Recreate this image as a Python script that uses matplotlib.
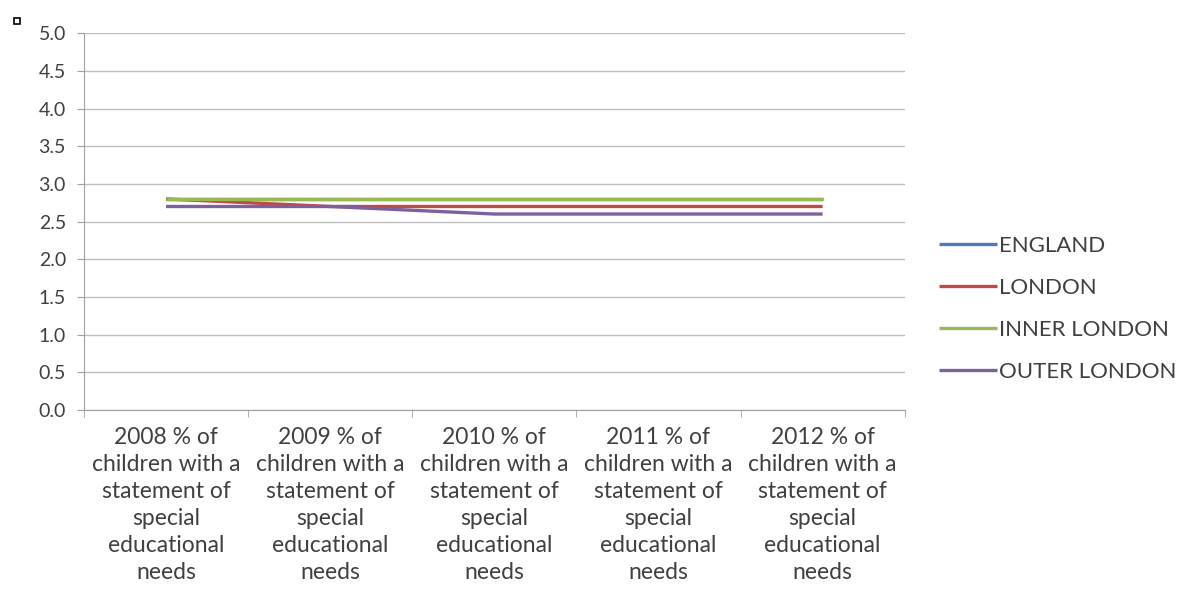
import matplotlib
matplotlib.use("Agg")
import matplotlib.pyplot as plt
from matplotlib.patches import Rectangle

plt.rcParams['font.family'] = ['Lato', 'DejaVu Sans']

categories = [
    "2008 % of\nchildren with a\nstatement of\nspecial\neducational\nneeds",
    "2009 % of\nchildren with a\nstatement of\nspecial\neducational\nneeds",
    "2010 % of\nchildren with a\nstatement of\nspecial\neducational\nneeds",
    "2011 % of\nchildren with a\nstatement of\nspecial\neducational\nneeds",
    "2012 % of\nchildren with a\nstatement of\nspecial\neducational\nneeds",
]
england = [2.8, 2.8, 2.8, 2.8, 2.8]
london = [2.8, 2.7, 2.7, 2.7, 2.7]
inner_london = [2.8, 2.8, 2.8, 2.8, 2.8]
outer_london = [2.7, 2.7, 2.6, 2.6, 2.6]

series = [
    ("ENGLAND", england, "#4A7EBB"),
    ("LONDON", london, "#BE4B48"),
    ("INNER LONDON", inner_london, "#98B954"),
    ("OUTER LONDON", outer_london, "#7D60A0"),
]

fig = plt.figure(figsize=(11.86, 5.94), dpi=100)
ax = fig.add_axes([0.0708, 0.31, 0.692, 0.634])

x = list(range(len(categories)))
for name, vals, col in series:
    ax.plot(x, vals, color=col, lw=2.4, label=name, solid_capstyle='butt')

ax.set_xlim(-0.5, len(categories) - 0.5)
ax.set_ylim(0, 5)
ax.set_yticks([i * 0.5 for i in range(11)])
ax.set_yticklabels([f"{i * 0.5:.1f}" for i in range(11)], fontsize=14, color="#404040")
ax.grid(axis='y', color="#BFBFBF", lw=1)
ax.set_axisbelow(True)

ax.set_xticks(x)
ax.set_xticklabels(categories, fontsize=16.5, color="#404040", linespacing=1.36)
ax.set_xticks([i - 0.5 for i in range(len(categories) + 1)], minor=True)
ax.tick_params(axis='x', which='major', length=0, pad=12)
ax.tick_params(axis='x', which='minor', length=5, color="#A0A0A0")
ax.tick_params(axis='y', length=5, color="#A0A0A0", pad=8)

for s in ['top', 'right']:
    ax.spines[s].set_visible(False)
for s in ['left', 'bottom']:
    ax.spines[s].set_color("#A0A0A0")

fig.legend(loc='center left', bbox_to_anchor=(0.775, 0.48), frameon=False,
           fontsize=16, handlelength=2.6, handletextpad=0.1, labelspacing=1.0,
           labelcolor="#404040")

fig.add_artist(Rectangle((0.0118, 0.96), 0.005, 0.01, transform=fig.transFigure,
                         fill=False, edgecolor='black', lw=1.2))

fig.savefig("out.png", dpi=100)
